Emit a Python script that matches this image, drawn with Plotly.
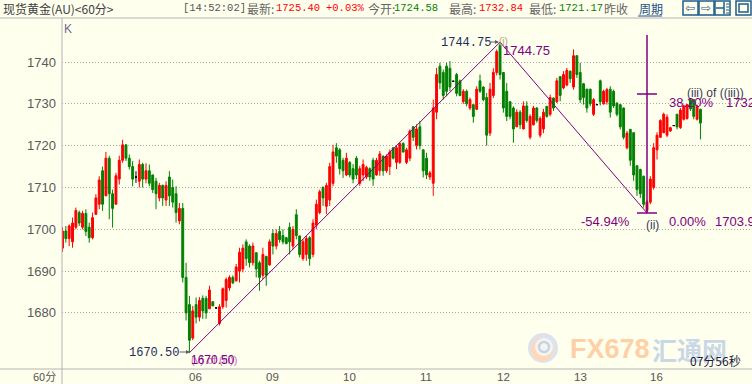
import plotly.graph_objects as go

# ---------------- data (60-minute XAU bars) ----------------
opens = [1695.5,1699.6,1697.8,1697.0,1700.5,1704.0,1700.5,1703.8,1700.5,1698.0,
         1703.6,1706.0,1714.0,1708.0,1717.0,1708.5,1706.0,1712.0,1716.5,1720.2,
         1717.0,1715.0,1712.5,1711.5,1715.5,1712.0,1714.0,1713.0,1711.5,1707.5,
         1710.5,1707.0,1712.5,1710.0,1708.5,1702.0,1705.0,1688.5,1682.0,1674.0,
         1682.0,1679.0,1683.5,1683.5,1681.0,1682.7,1681.2,1677.5,1681.5,1683.0,
         1686.0,1688.5,1687.7,1690.0,1690.5,1697.0,1696.0,1692.0,1694.4,1692.0,
         1689.0,1693.5,1691.5,1699.0,1696.0,1699.5,1698.5,1698.0,1700.5,1696.0,
         1703.5,1698.4,1693.0,1694.0,1698.0,1694.0,1701.0,1704.0,1710.0,1705.5,
         1707.0,1711.0,1719.5,1719.0,1716.5,1713.0,1716.0,1714.5,1717.0,1711.0,
         1713.0,1712.5,1714.5,1716.5,1713.0,1714.0,1717.5,1714.0,1715.0,1719.5,
         1716.0,1716.0,1720.5,1716.0,1717.0,1724.5,1720.0,1724.5,1719.0,1717.0,
         1712.5,1711.0,1728.0,1739.0,1737.5,1739.0,1738.5,1735.4,1737.0,1735.5,
         1730.5,1733.0,1729.0,1729.8,1728.7,1735.5,1734.0,1731.5,1723.0,1732.0,
         1737.5,1744.0,1737.5,1733.0,1730.5,1729.0,1724.5,1728.0,1724.0,1729.5,
         1722.0,1725.0,1729.0,1722.5,1724.0,1729.4,1727.5,1731.4,1730.5,1736.5,
         1733.8,1734.5,1737.8,1734.0,1741.5,1737.5,1734.8,1733.5,1733.5,1727.5,
         1729.8,1735.5,1730.0,1730.5,1733.5,1733.0,1730.2,1729.8,1729.0,1719.5,
         1723.9,1723.1,1715.2,1714.3,1712.7,1704.5,1706.5,1710.0,1719.0,1722.0,
         1723.1,1722.5,1723.5,1724.8,1727.5,1724.3,1726.3,1726.5,1731.0,1731.0,
         1726.3,1728.7]
highs = [1700.5,1700.8,1701.2,1702.8,1705.2,1704.5,1704.4,1704.8,1701.6,1704.0,
         1708.4,1712.7,1715.0,1718.5,1717.6,1709.5,1713.5,1717.6,1721.4,1720.3,
         1717.9,1716.3,1713.9,1716.7,1715.9,1715.8,1715.5,1713.1,1712.3,1711.1,
         1710.7,1711.5,1713.9,1711.9,1710.3,1706.3,1706.3,1692.0,1684.1,1681.7,
         1683.7,1683.8,1684.2,1684.1,1686.5,1682.8,1681.4,1682.1,1686.1,1688.5,
         1689.0,1689.0,1691.7,1695.6,1696.4,1697.6,1696.4,1696.8,1694.5,1692.5,
         1695.6,1693.7,1697.6,1700.0,1700.0,1700.8,1700.0,1698.2,1701.6,1700.8,
         1704.8,1698.5,1697.6,1698.4,1698.4,1702.4,1707.1,1709.5,1710.3,1711.1,
         1715.9,1720.2,1720.6,1719.4,1717.1,1718.3,1716.3,1715.6,1717.5,1715.2,
         1716.7,1715.2,1714.8,1717.1,1717.1,1718.7,1717.6,1717.9,1719.1,1719.6,
         1720.0,1720.8,1720.8,1719.5,1723.9,1724.7,1725.1,1725.9,1719.1,1718.3,
         1714.0,1731.0,1738.6,1739.8,1738.2,1739.8,1740.2,1735.5,1737.4,1735.8,
         1733.5,1733.4,1731.5,1729.9,1734.2,1737.0,1734.2,1732.6,1735.0,1738.5,
         1743.0,1744.75,1737.6,1735.0,1730.6,1729.4,1728.7,1728.5,1730.6,1730.6,
         1727.5,1729.5,1729.2,1727.0,1728.8,1729.5,1732.2,1731.5,1736.2,1736.6,
         1737.8,1738.6,1738.0,1743.0,1741.6,1739.8,1735.0,1733.6,1733.6,1731.4,
         1729.9,1735.8,1733.4,1733.8,1734.2,1733.4,1730.3,1729.9,1729.1,1723.5,
         1724.0,1723.2,1715.3,1714.5,1712.8,1707.0,1712.7,1720.6,1723.2,1726.3,
         1727.9,1727.5,1724.5,1724.9,1727.6,1729.0,1729.8,1730.0,1731.1,1731.1,
         1729.8,1728.8]
lows = [1694.6,1696.8,1696.0,1695.6,1700.0,1700.8,1700.0,1698.4,1696.8,1697.6,
        1703.4,1704.8,1704.4,1708.0,1702.4,1700.4,1706.0,1710.7,1715.9,1716.3,
        1714.3,1710.3,1711.1,1710.0,1710.0,1711.0,1710.3,1708.7,1704.8,1706.7,
        1705.6,1705.6,1705.6,1705.2,1701.6,1701.2,1687.3,1678.2,1670.5,1673.5,
        1677.5,1678.0,1678.6,1678.6,1681.0,1681.6,1681.0,1677.0,1681.0,1681.3,
        1685.3,1686.9,1687.5,1687.3,1689.7,1691.3,1690.9,1691.3,1688.5,1685.3,
        1688.1,1686.5,1691.3,1694.0,1695.2,1696.8,1696.4,1696.4,1694.0,1695.2,
        1697.6,1693.3,1692.5,1692.5,1691.3,1693.3,1700.0,1703.6,1705.6,1703.6,
        1705.6,1710.3,1715.9,1713.1,1712.3,1712.7,1712.4,1711.0,1712.0,1710.4,
        1711.5,1712.0,1711.6,1710.4,1712.8,1712.8,1712.8,1713.5,1713.0,1716.7,
        1714.4,1715.6,1718.3,1715.6,1716.3,1721.1,1719.1,1719.1,1712.4,1712.0,
        1711.8,1708.0,1726.3,1733.5,1731.0,1731.8,1733.0,1735.3,1731.8,1731.8,
        1730.0,1729.4,1728.5,1725.5,1728.5,1732.6,1730.6,1720.0,1722.3,1731.4,
        1736.8,1735.8,1727.9,1725.9,1726.3,1720.7,1724.5,1724.0,1723.9,1725.5,
        1721.5,1724.8,1725.5,1721.9,1723.0,1726.7,1727.0,1728.3,1730.2,1730.6,
        1733.5,1734.2,1735.0,1733.4,1736.2,1730.2,1729.8,1727.9,1729.4,1727.1,
        1729.7,1729.6,1729.8,1729.8,1726.7,1729.0,1727.0,1723.9,1721.5,1719.1,
        1715.2,1711.6,1708.0,1707.5,1705.2,1703.9,1706.0,1709.5,1716.7,1721.9,
        1723.0,1722.0,1723.3,1724.7,1723.9,1724.0,1726.0,1726.2,1728.3,1726.3,
        1726.0,1721.5]
closes = [1699.6,1697.8,1700.8,1701.5,1704.5,1701.5,1703.8,1699.5,1698.0,1702.8,
          1707.5,1711.8,1706.0,1717.0,1708.5,1705.0,1712.8,1716.5,1720.2,1717.0,
          1715.0,1712.0,1712.5,1715.5,1712.0,1714.0,1711.0,1709.5,1708.5,1710.5,
          1707.5,1710.5,1708.0,1706.5,1704.0,1705.0,1688.5,1680.0,1673.5,1680.5,
          1679.0,1683.0,1680.5,1680.0,1685.5,1681.7,1681.2,1681.5,1685.8,1688.0,
          1688.5,1687.2,1691.0,1694.5,1695.5,1693.0,1692.0,1696.0,1690.5,1688.5,
          1694.0,1689.0,1697.0,1696.0,1699.0,1697.5,1697.0,1696.6,1697.0,1700.0,
          1698.5,1694.0,1697.0,1697.8,1693.0,1701.5,1706.0,1709.0,1707.5,1710.5,
          1715.0,1718.5,1717.5,1714.5,1714.0,1717.0,1713.0,1712.0,1713.0,1714.5,
          1715.5,1714.8,1712.5,1712.0,1716.5,1718.0,1714.0,1717.5,1718.5,1717.0,
          1719.5,1720.5,1718.5,1719.0,1723.5,1722.0,1724.0,1720.0,1714.0,1713.0,
          1713.5,1729.0,1737.0,1735.0,1732.0,1733.0,1734.0,1735.4,1732.5,1732.0,
          1733.0,1730.0,1731.0,1727.0,1733.5,1733.0,1731.0,1722.5,1733.5,1737.5,
          1742.5,1737.0,1729.0,1727.0,1727.0,1724.0,1728.0,1725.0,1729.5,1726.0,
          1727.0,1729.0,1726.0,1726.5,1728.0,1727.0,1731.5,1729.0,1735.5,1732.0,
          1737.0,1738.0,1736.0,1741.5,1737.0,1731.0,1731.5,1729.0,1730.0,1731.0,
          1729.8,1730.5,1733.0,1733.4,1728.0,1729.5,1727.5,1724.5,1722.0,1723.0,
          1716.5,1713.0,1709.5,1708.5,1706.0,1706.5,1712.0,1719.5,1722.5,1726.0,
          1727.5,1726.8,1724.3,1724.8,1724.5,1728.5,1729.5,1729.8,1728.8,1727.0,
          1729.5,1725.4]

day_labels = ["0604", "06", "09", "10", "11", "12", "13", "16"]
day_start_bar = [0, 38, 61, 84, 107, 130, 153, 176]
y_ticks = [1680, 1690, 1700, 1710, 1720, 1730, 1740]

wave_bar = [38, 131, 175]
wave_price = [1670.50, 1744.75, 1703.90]
fib_levels = [1703.90, 1732.35]

header = [("现货黄金(AU)<60分>", "#404040"), ("[14:52:02]", "#555555"), ("最新:", "#666666"),
          ("1725.40", "#FF0000"), ("+0.03%", "#FF0000"), ("今开:", "#666666"),
          ("1724.58", "#008000"), ("最高:", "#666666"), ("1732.84", "#FF0000"),
          ("最低:", "#666666"), ("1721.17", "#008000"), ("昨收", "#666666"),
          ("周期", "#1A4F8A")]
header_x = [2, 182, 246, 275, 325, 367, 393, 448, 478, 528, 558, 603, 638]

# ---------------- layout helpers ----------------
W, H = 752, 384
ML, MR, MT, MB = 62, 0, 18, 15
PW, PH = W - ML - MR, H - MT - MB
BAR_PX = 3.34
X0 = -0.5 / BAR_PX
X1 = X0 + PW / BAR_PX
Y_TOP = 1740 + (62 - MT) / 4.183
Y_BOT = Y_TOP - PH / 4.183
BG = "#FFFFEE"
PURPLE = "#800080"
SANS = "Liberation Sans"
MONO = "Liberation Mono"
CJK = "Noto Sans CJK SC"


def px(x):
    return (x - ML) / PW


def py(y):
    return (H - MB - y) / PH


xs = list(range(len(opens)))
doji = [i for i in xs if opens[i] == closes[i]]
normal = [i for i in xs if opens[i] != closes[i]]

fig = go.Figure()
fig.add_trace(go.Candlestick(
    x=[xs[i] for i in normal], open=[opens[i] for i in normal],
    high=[highs[i] for i in normal], low=[lows[i] for i in normal],
    close=[closes[i] for i in normal],
    increasing=dict(line=dict(color="#FF0000", width=1), fillcolor="#FF0000"),
    decreasing=dict(line=dict(color="#008000", width=1), fillcolor="#008000"),
    whiskerwidth=0, showlegend=False, hoverinfo="skip"))
fig.add_trace(go.Candlestick(
    x=[xs[i] for i in doji], open=[opens[i] for i in doji],
    high=[highs[i] for i in doji], low=[lows[i] for i in doji],
    close=[closes[i] for i in doji],
    increasing=dict(line=dict(color="#000000", width=1), fillcolor="#000000"),
    decreasing=dict(line=dict(color="#000000", width=1), fillcolor="#000000"),
    whiskerwidth=0, showlegend=False, hoverinfo="skip"))

# wave line
fig.add_trace(go.Scatter(x=wave_bar, y=wave_price, mode="lines",
                         line=dict(color=PURPLE, width=1), showlegend=False, hoverinfo="skip"))
# fib vertical & horizontal marks at last wave point
vx = wave_bar[2]
fig.add_trace(go.Scatter(x=[vx, vx], y=[fib_levels[0], Y_TOP - (35 - MT) / 4.183], mode="lines",
                         line=dict(color=PURPLE, width=1.5), showlegend=False, hoverinfo="skip"))
for lv in fib_levels:
    fig.add_trace(go.Scatter(x=[vx - 3, vx + 3], y=[lv, lv], mode="lines",
                             line=dict(color=PURPLE, width=1.5), showlegend=False, hoverinfo="skip"))

shapes = []
# frame lines
shapes.append(dict(type="line", xref="paper", yref="paper", x0=px(0), x1=px(W), y0=py(18), y1=py(18),
                   line=dict(color="#B4B4B4", width=1)))
shapes.append(dict(type="line", xref="paper", yref="paper", x0=px(0), x1=px(W), y0=py(369), y1=py(369),
                   line=dict(color="#B4B4B4", width=1)))
shapes.append(dict(type="line", xref="paper", yref="paper", x0=px(62), x1=px(62), y0=py(18), y1=py(H),
                   line=dict(color="#B4B4B4", width=1)))
# header icons
ICON = "#1F5C8C"
for (a, b) in [(683, 698), (699, 714), (715, 730), (736, 751)]:
    shapes.append(dict(type="rect", xref="paper", yref="paper", x0=px(a), x1=px(b), y0=py(1), y1=py(15),
                       line=dict(color=ICON, width=1.5)))
shapes.append(dict(type="line", xref="paper", yref="paper", x0=px(724), x1=px(724), y0=py(2), y1=py(14),
                   line=dict(color=ICON, width=1.5)))
shapes.append(dict(type="line", xref="paper", yref="paper", x0=px(716), x1=px(724), y0=py(8), y1=py(8),
                   line=dict(color=ICON, width=1.5)))
for yy in [4, 7, 10, 13]:
    shapes.append(dict(type="line", xref="paper", yref="paper", x0=px(726), x1=px(729), y0=py(yy), y1=py(yy),
                       line=dict(color=ICON, width=1)))
shapes.append(dict(type="rect", xref="paper", yref="paper", x0=px(739), x1=px(748), y0=py(4), y1=py(12),
                   line=dict(color=ICON, width=1.5)))
# underline 周期
shapes.append(dict(type="line", xref="paper", yref="paper", x0=px(638), x1=px(662), y0=py(16), y1=py(16),
                   line=dict(color="#1A4F8A", width=1)))
# watermark logo
shapes.append(dict(type="circle", xref="paper", yref="paper", x0=px(528), x1=px(558), y0=py(333), y1=py(363),
                   fillcolor="#DCE3EC", line=dict(width=0), layer="below"))
shapes.append(dict(type="circle", xref="paper", yref="paper", x0=px(531), x1=px(553), y0=py(338), y1=py(361),
                   fillcolor="#FFD8B8", line=dict(width=0), layer="below"))
shapes.append(dict(type="circle", xref="paper", yref="paper", x0=px(535), x1=px(553), y0=py(338), y1=py(356),
                   fillcolor="#F4F4F0", line=dict(width=0), layer="below"))
shapes.append(dict(type="circle", xref="paper", yref="paper", x0=px(539), x1=px(549), y0=py(342), y1=py(352),
                   fillcolor="#F4F4F0", line=dict(color="#C9D3DF", width=2.5), layer="below"))

ann = []


def txt(x, y, s, color, size, family=SANS, xanchor="left", **kw):
    ann.append(dict(x=px(x), y=py(y), xref="paper", yref="paper", text=s, showarrow=False,
                    xanchor=xanchor, yanchor="middle", borderpad=0,
                    font=dict(color=color, size=size, family=family), **kw))


# header texts
for (s, c), x in zip(header, header_x):
    fam = MONO if s[0].isdigit() or s[0] in "[+" else CJK
    txt(x, 8.5, s, c, 10.5 if fam == MONO else 12, fam)
txt(684, 7.5, "⇦", ICON, 12, "DejaVu Sans")
txt(700, 7.5, "⇨", ICON, 12, "DejaVu Sans")

# y tick labels
for v in y_ticks:
    ann.append(dict(x=px(57), y=v, xref="paper", yref="y", text=str(v), showarrow=False,
                    xanchor="right", yanchor="middle", borderpad=0,
                    font=dict(color="#5A5A5A", size=13, family=SANS)))
# x labels
for lab, b in zip(day_labels, day_start_bar):
    ann.append(dict(x=b - 0.3, y=py(376.5), xref="x", yref="paper", text=lab, showarrow=False,
                    xanchor="left", yanchor="middle", borderpad=0,
                    font=dict(color="#555555", size=11.5, family=SANS)))
txt(57, 376, "60分", "#555555", 11, CJK, xanchor="right")
txt(63, 28.5, "K", "#6A6A90", 12)

# wave annotations
txt(440, 42.5, f"{wave_price[1]:.2f}", "#1C2C5C", 12, MONO)
ann.append(dict(x=px(499), y=py(42), ax=-10, ay=0, xref="paper", yref="paper", text="", showarrow=True,
                arrowhead=2, arrowsize=0.8, arrowwidth=1, arrowcolor="#606060"))
txt(498, 42, "(i)", "#B0A070", 10)
txt(502, 50, f"{wave_price[1]:.2f}", PURPLE, 13)
txt(128, 353, f"{wave_price[0]:.2f}", "#1C2C5C", 12, MONO)
ann.append(dict(x=px(190), y=py(352), ax=-12, ay=0, xref="paper", yref="paper", text="", showarrow=True,
                arrowhead=2, arrowsize=0.8, arrowwidth=1, arrowcolor="#606060"))
txt(190, 360, "(v) of (iii))", "#C870C8", 11)
txt(190, 360, f"{wave_price[0]:.2f}", PURPLE, 12)
txt(686, 93, "(iii) of ((iii))", "#3A3A5A", 12)
txt(668, 102, "38.20%", PURPLE, 13)
txt(725, 102, f"{fib_levels[1]:.2f}", PURPLE, 13)
txt(580, 221, "-54.94%", PURPLE, 13)
txt(645, 224.5, "(ii)", "#3A3A5A", 12)
txt(668, 221, "0.00%", PURPLE, 13)
txt(714, 221, f"{fib_levels[0]:.2f}", PURPLE, 13)

# watermark
txt(569, 349, "<b>FX678</b>", "#FFCFA6", 27, SANS)
txt(651, 349, "<b>汇通网</b>", "#C9D7E6", 25, CJK)
txt(689, 360.5, "07分56秒", "#1A1A40", 12, CJK)

fig.update_layout(
    width=W, height=H, margin=dict(l=ML, r=MR, t=MT, b=MB),
    paper_bgcolor=BG, plot_bgcolor=BG,
    boxgap=0.25, boxgroupgap=0.25,
    xaxis=dict(range=[X0, X1], showgrid=False, zeroline=False, showticklabels=False,
               rangeslider=dict(visible=False), showline=False, fixedrange=True),
    yaxis=dict(range=[Y_BOT, Y_TOP], tickvals=y_ticks, showticklabels=False,
               showgrid=True, gridcolor="#AAAAAA", griddash="1px,2px", gridwidth=1,
               zeroline=False, showline=False, fixedrange=True),
    shapes=shapes, annotations=ann, showlegend=False,
)
fig.write_html("out.html")
